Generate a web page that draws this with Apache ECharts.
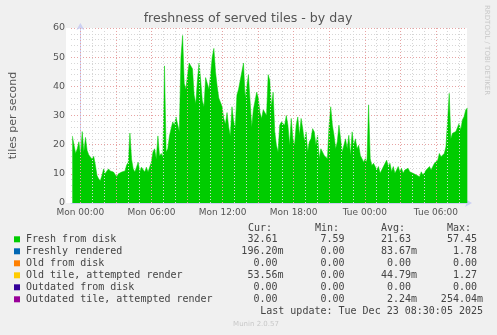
<!DOCTYPE html>
<html><head><meta charset="utf-8">
<script src="https://cdn.jsdelivr.net/npm/echarts@6/dist/echarts.min.js"></script>
<style>html,body{margin:0;padding:0;background:#f0f0f0}#c{width:497px;height:335px}</style>
</head><body><div id="c"></div>
<script>
const titleText = 'freshness of served tiles - by day';
const yAxisName = 'tiles per second';
const watermark = 'RRDTOOL / TOBI OETIKER';
const lastUpdate = 'Last update: Tue Dec 23 08:30:05 2025';
const footerText = 'Munin 2.0.57';

// x axis in minutes from Mon 00:00
const xTickMinutes = [0, 360, 720, 1080, 1440, 1800];
const xTickLabels = ['Mon 00:00', 'Mon 06:00', 'Mon 12:00', 'Mon 18:00', 'Tue 00:00', 'Tue 06:00'];
const yTicks = [0, 10, 20, 30, 40, 50, 60];

// samples of "Fresh from disk" (tiles/s), uniform time step
const sampleStartMin = -40.8;
const sampleStepMin = 25 / 3;
const freshFromDisk = [
  23,20,17,18.6,21,16,24.5,17.5,22.5,18,16.5,16,15,16,13,9.4,8.3,7.59,9.4,11.7,
  10,11,11.7,11,11.5,10.6,10.6,8.9,10,9.4,10.6,10,11,13,14,24,15,11.7,10.6,12.3,
  14,10.6,12.3,11.7,10.6,12.3,10.6,11,14,17.5,18.6,15,23,16,17,15.7,47,17.5,18.6,23,25.5,
  27.8,26.7,29.5,29,24.4,50,57.45,41,39,44,48,47,46,37,34,42,48,42,35,33,
  43,43,39,44,50,53,45,40,36,36,33,29,27,31,26,23,33,28,26,37,
  39,39,45,48,36,36,44,35,26,32,32,38,36,31,29,32,32,30,44,42,33,
  38,24.4,19.8,17.5,26.7,27.8,27.8,26.7,30,26.7,19.8,29,22,19.8,26.7,29.5,23.2,29,25.5,21,
  24.4,17.5,21,22,25.5,24.4,19.8,23.2,15.2,18.6,17.5,16.3,15.7,15.2,26.7,33,26.7,23.2,18.6,21,
  26.7,22,17.5,19.8,22,18.6,23.2,16.3,24.4,19.8,22,18.6,19.8,16.3,15.2,14,15.2,14,33.6,15.2,12.9,
  13.6,12.5,11.3,12.5,10.2,11.3,10.7,13.6,14.7,12.5,13.6,10.7,12.5,10.2,11.3,12.5,10.7,11.9,10.2,11.3,
  10.7,11.9,10.7,11.3,10.2,10.2,9.6,9.6,9,10.7,9.6,10.2,11.3,10.7,12.5,11.3,12.5,13.6,13,14.7,
  17,15.9,15.3,17,19.3,28.5,37.6,22,23.9,23.3,24.5,25,27.3,25,28.5,29.6,31.9,32.61
];

// legend table
const seriesNames = ['Fresh from disk', 'Freshly rendered', 'Old from disk', 'Old tile, attempted render', 'Outdated from disk', 'Outdated tile, attempted render'];
const seriesColors = ['#00cc00', '#0066b3', '#ff8000', '#ffcc00', '#330099', '#990099'];
const curValues = [32.61, 0.19620, 0, 0.05356, 0, 0];
const minValues = [7.59, 0, 0, 0, 0, 0];
const avgValues = [21.63, 0.08367, 0, 0.04479, 0, 0.00224];
const maxValues = [57.45, 1.78, 0, 1.27, 0, 0.25404];
const columnHeaders = ['Cur:', 'Min:', 'Avg:', 'Max:'];

function fmt(v) {
  if (v !== 0 && Math.abs(v) < 1) return (v * 1000).toFixed(2) + 'm';
  return v.toFixed(2) + ' ';
}

const chart = echarts.init(document.getElementById('c'), null, {renderer: 'canvas'});

const gridL = 66, gridT = 28, gridW = 401, gridH = 175;
const xMin = -47.5, xMax = 1957.5;

// hourly grid lines
const gridLineData = [];
for (let h = 0; h * 60 <= xMax; h++) {
  const major = h % 3 === 0;
  gridLineData.push({
    xAxis: h * 60,
    lineStyle: {color: major ? '#e7a3a3' : '#d6d6d6', type: [1, 2], width: 1}
  });
}

const mono = 'DejaVu Sans Mono';
const gfx = [];
gfx.push({type: 'text', x: 248, y: 19, style: {text: titleText, fill: '#555', font: '12.6px "DejaVu Sans"', textAlign: 'center', textVerticalAlign: 'middle'}});
gfx.push({type: 'text', x: 487, y: 5, rotation: -Math.PI / 2, style: {text: watermark, fill: '#c8c8c8', font: '7px "DejaVu Sans"', textAlign: 'left', textVerticalAlign: 'middle'}});
const colLeft = [248, 315, 381, 447];
columnHeaders.forEach((t, i) => gfx.push({type: 'text', x: colLeft[i], y: 228, style: {text: t, fill: '#444', font: '10px "' + mono + '"', textAlign: 'left', textVerticalAlign: 'middle'}}));
const colRight = [283.5, 350.5, 417, 483];
const rowY0 = 239.3, rowStep = 12;
seriesNames.forEach((n, i) => {
  const y = rowY0 + i * rowStep;
  gfx.push({type: 'rect', shape: {x: 14, y: y - 3, width: 6, height: 6}, style: {fill: seriesColors[i]}});
  gfx.push({type: 'text', x: 26, y: y, style: {text: n, fill: '#444', font: '10px "' + mono + '"', textAlign: 'left', textVerticalAlign: 'middle'}});
  [curValues, minValues, avgValues, maxValues].forEach((arr, j) => {
    gfx.push({type: 'text', x: colRight[j], y: y, style: {text: fmt(arr[i]), fill: '#444', font: '10px "' + mono + '"', textAlign: 'right', textVerticalAlign: 'middle', whiteSpace: 'pre'}});
  });
});
gfx.push({type: 'text', x: 483, y: 311.7, style: {text: lastUpdate, fill: '#444', font: '10px "' + mono + '"', textAlign: 'right', textVerticalAlign: 'middle'}});
gfx.push({type: 'text', x: 256, y: 323.7, style: {text: footerText, fill: '#c8c8c8', font: '7px "DejaVu Sans"', textAlign: 'center', textVerticalAlign: 'middle'}});
gfx.push({type: 'rect', z: -10, shape: {x: gridL, y: gridT, width: gridW, height: gridH}, style: {fill: '#ffffff'}});

chart.setOption({
  backgroundColor: '#f0f0f0',
  animation: false,
  graphic: gfx,
  grid: {left: gridL, top: gridT, width: gridW, height: gridH, show: false},
  xAxis: {
    type: 'value', min: xMin, max: xMax,
    axisLine: {show: true, lineStyle: {color: '#ccd0f2'}, symbol: ['none', 'arrow'], symbolSize: [6, 7], symbolOffset: [0, 5]},
    axisTick: {show: false},
    splitLine: {show: false},
    axisLabel: {
      show: true, customValues: xTickMinutes, margin: 5,
      color: '#555', fontFamily: 'DejaVu Sans', fontSize: 9,
      formatter: (v) => { const k = xTickMinutes.indexOf(v); return k >= 0 ? xTickLabels[k] : ''; }
    }
  },
  yAxis: {
    type: 'value', min: yTicks[0], max: yTicks[yTicks.length - 1], interval: 10,
    name: yAxisName, nameLocation: 'middle', nameRotate: 90, nameGap: 52,
    nameTextStyle: {color: '#555', fontFamily: 'DejaVu Sans', fontSize: 11},
    axisLine: {show: true, lineStyle: {color: '#ccd0f2'}, symbol: ['none', 'arrow'], symbolSize: [6, 7], symbolOffset: [0, 5]},
    axisTick: {show: false},
    axisLabel: {color: '#555', fontFamily: 'DejaVu Sans', fontSize: 9.5, margin: 6},
    splitLine: {show: true, lineStyle: {color: '#e7a3a3', type: [1, 2]}},
    minorTick: {show: false, splitNumber: 5},
    minorSplitLine: {show: true, lineStyle: {color: '#d6d6d6', type: [1, 2]}}
  },
  series: [
    {
      type: 'line', z: 1, silent: true, symbol: 'none',
      data: [[xMin, 0]], lineStyle: {opacity: 0},
      markLine: {silent: true, symbol: 'none', label: {show: false}, animation: false, data: gridLineData}
    },
    {
      name: seriesNames[0], type: 'line', z: 3, symbol: 'none', silent: true,
      data: freshFromDisk.map((v, i) => [sampleStartMin + i * sampleStepMin, v]),
      lineStyle: {width: 0.5, color: seriesColors[0]},
      areaStyle: {color: seriesColors[0], opacity: 1}
    }
  ]
});
</script></body></html>
